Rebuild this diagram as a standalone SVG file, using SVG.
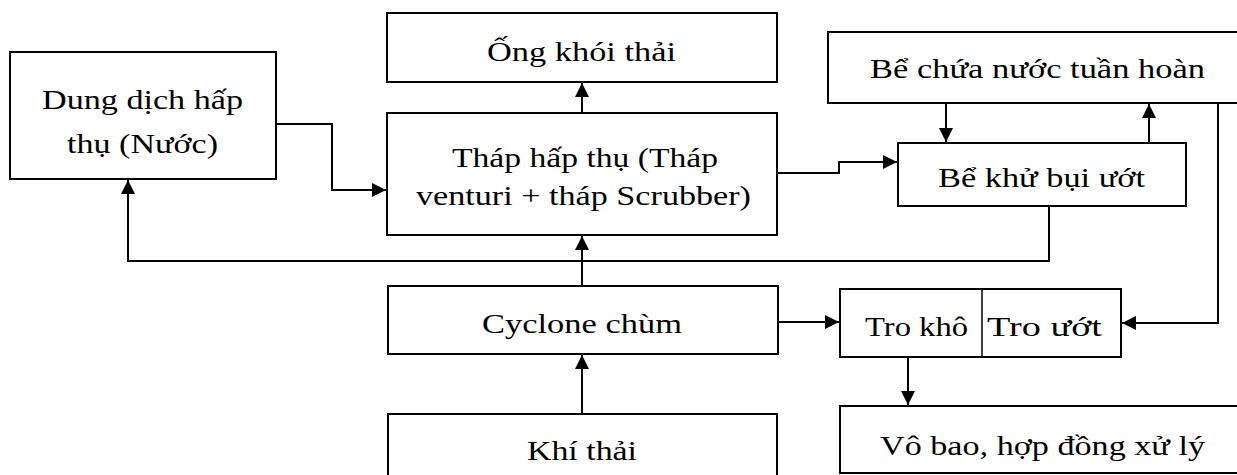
<svg xmlns="http://www.w3.org/2000/svg" width="1237" height="475" viewBox="0 0 1237 475">
<style>
.box{fill:#fff;stroke:#000;stroke-width:2}
.t{font-family:'Liberation Serif','Times New Roman','Tinos','Noto Serif','DejaVu Serif',serif;font-size:27px;fill:#000}
.c{fill:none;stroke:#000;stroke-width:2}
</style>
<defs>
<marker id="ah" viewBox="0 0 14 14" refX="14" refY="7" markerWidth="14" markerHeight="14" markerUnits="userSpaceOnUse" orient="auto">
<path d="M0,0 L14,7 L0,14 Z" fill="#000"/>
</marker>
</defs>
<rect width="1237" height="475" fill="#fff"/>
<g id="connectors">
<path class="c" d="M276,124 H332 V190 H386" marker-end="url(#ah)"/>
<path class="c" d="M582,113 V83" marker-end="url(#ah)"/>
<path class="c" d="M777,173 H839 V162 H897" marker-end="url(#ah)"/>
<path class="c" d="M946,103 V142" marker-end="url(#ah)"/>
<path class="c" d="M1149,143 V104" marker-end="url(#ah)"/>
<path class="c" d="M1049,206 V261 H128 V180" marker-end="url(#ah)"/>
<path class="c" d="M582,286 V236" marker-end="url(#ah)"/>
<path class="c" d="M582,414 V355" marker-end="url(#ah)"/>
<path class="c" d="M778,322 H839" marker-end="url(#ah)"/>
<path class="c" d="M1218,103 V323 H1122" marker-end="url(#ah)"/>
<path class="c" d="M908,357 V405" marker-end="url(#ah)"/>
</g>
<g id="dung-dich">
<rect class="box" x="10" y="52" width="266" height="127"/>
<text class="t" x="42" y="109" textLength="201" lengthAdjust="spacingAndGlyphs">Dung dịch hấp</text>
<text class="t" x="67" y="153" textLength="151" lengthAdjust="spacingAndGlyphs">thụ (Nước)</text>
</g>
<g id="ong-khoi">
<rect class="box" x="387" y="13" width="390" height="69"/>
<text class="t" x="487" y="61" textLength="189" lengthAdjust="spacingAndGlyphs">Ống khói thải</text>
</g>
<g id="thap-hap-thu">
<rect class="box" x="387" y="113" width="390" height="122"/>
<text class="t" x="452" y="167" textLength="266" lengthAdjust="spacingAndGlyphs">Tháp hấp thụ (Tháp</text>
<text class="t" x="416" y="205" textLength="335" lengthAdjust="spacingAndGlyphs">venturi + tháp Scrubber)</text>
</g>
<g id="be-chua">
<rect class="box" x="828" y="32" width="420" height="71"/>
<text class="t" x="870" y="78" textLength="335" lengthAdjust="spacingAndGlyphs">Bể chứa nước tuần hoàn</text>
</g>
<g id="be-khu-bui">
<rect class="box" x="898" y="143" width="288" height="63"/>
<text class="t" x="938" y="187" textLength="207" lengthAdjust="spacingAndGlyphs">Bể khử bụi ướt</text>
</g>
<g id="cyclone">
<rect class="box" x="388" y="286" width="390" height="68"/>
<text class="t" x="482" y="333" textLength="200" lengthAdjust="spacingAndGlyphs">Cyclone chùm</text>
</g>
<g id="khi-thai">
<rect class="box" x="388" y="414" width="389" height="80"/>
<text class="t" x="527" y="460" textLength="110" lengthAdjust="spacingAndGlyphs">Khí thải</text>
</g>
<g id="tro">
<rect class="box" x="840" y="289" width="281" height="68"/>
<line x1="982" y1="289" x2="982" y2="357" stroke="#000" stroke-width="1.5"/>
<text class="t" x="865" y="336" textLength="103" lengthAdjust="spacingAndGlyphs">Tro khô</text>
<text class="t" x="987" y="336" textLength="115" lengthAdjust="spacingAndGlyphs">Tro ướt</text>
</g>
<g id="vo-bao">
<rect class="box" x="840" y="406" width="420" height="67"/>
<text class="t" x="880" y="455" textLength="325" lengthAdjust="spacingAndGlyphs">Vô bao, hợp đồng xử lý</text>
</g>
</svg>
